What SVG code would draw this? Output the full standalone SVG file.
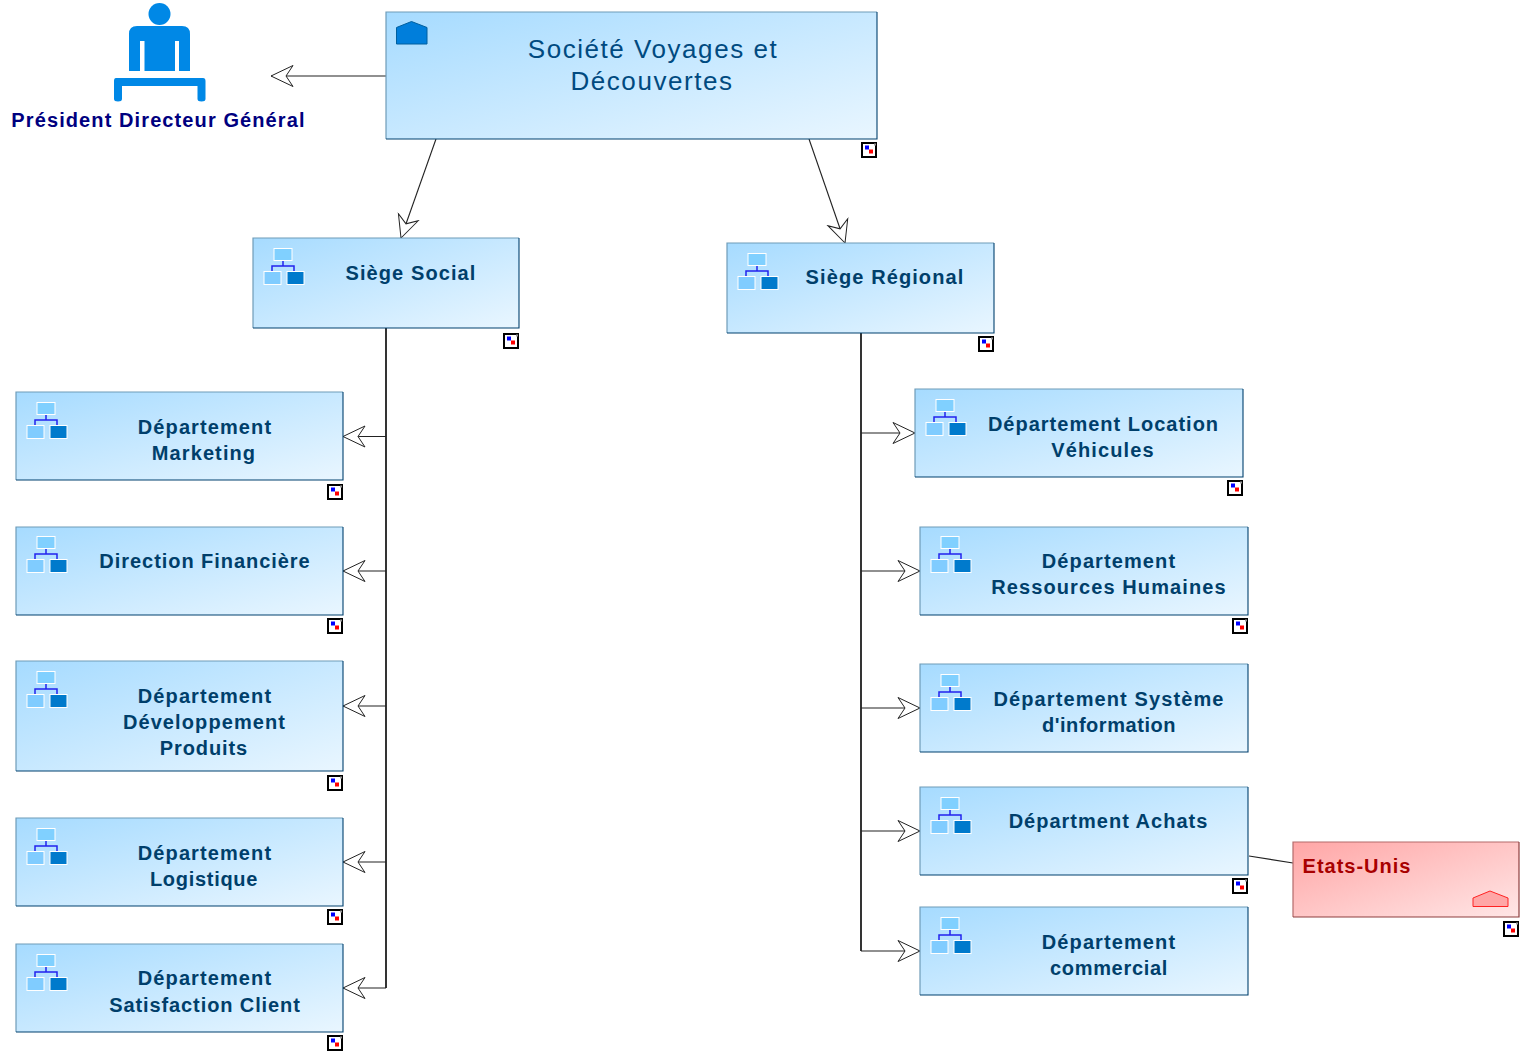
<svg xmlns="http://www.w3.org/2000/svg" xmlns:xlink="http://www.w3.org/1999/xlink" width="1522" height="1054" viewBox="0 0 1522 1054">
<style>
text{font-family:"Liberation Sans",Arial,sans-serif;text-anchor:middle}
.box{fill:url(#blue)}
.hl{fill:none;stroke:#6f9cb8;stroke-width:1.2}
.sh{fill:none;stroke:#00406e;stroke-width:1.1}
.t{font-size:20px;font-weight:700;fill:#003f6b;letter-spacing:1.1px}
.big{font-size:26px;fill:#004a80;letter-spacing:1.550px}
.c{fill:none;stroke:#222;stroke-width:1.1;marker-end:url(#arr)}
.l{fill:none;stroke:#000;stroke-width:1.6}
</style>
<defs>
<linearGradient id="blue" x1="0" y1="0" x2="1" y2="1"><stop offset="0" stop-color="#a6dbff"/><stop offset="1" stop-color="#e9f6ff"/></linearGradient>
<linearGradient id="red" x1="0" y1="0" x2="1" y2="1"><stop offset="0" stop-color="#ffa6a6"/><stop offset="1" stop-color="#ffe6e6"/></linearGradient>
<marker id="arr" markerUnits="userSpaceOnUse" markerWidth="26" markerHeight="26" refX="23" refY="12" orient="auto" viewBox="0 0 26 26"><path d="M1 1.500L23 12L1 22.500L8 12Z" fill="#fff" stroke="#222" stroke-width="1"/></marker>
<g id="org">
<rect x="10.500" y="0.500" width="18" height="12" fill="#80d0ff" stroke="#fff" stroke-width="1"/>
<path d="M19.500 13V18M8.500 23V18H30.500V23" fill="none" stroke="#2222ee" stroke-width="1.500"/>
<rect x="0.500" y="23.500" width="17" height="13" fill="#80ccff" stroke="#fff" stroke-width="1"/>
<rect x="23.500" y="23.500" width="17" height="13" fill="#007acc" stroke="#fff" stroke-width="1"/>
</g>
<g id="note">
<rect x="1" y="1" width="14" height="14" fill="#fff" stroke="#000" stroke-width="2"/>
<rect x="13" y="1.500" width="2" height="2" fill="#999"/>
<rect x="4" y="3.500" width="4" height="4" fill="#00f"/><rect x="8" y="7.500" width="4" height="4" fill="#f00"/>
</g>
</defs>

<g id="connectors">
<path class="c" d="M386 76H271"/>
<path class="c" d="M436 139L401 238"/>
<path class="c" d="M809 139L845 243"/>
<path class="l" d="M386 328V988"/>
<path class="c" d="M386 436.500H343"/>
<path class="c" d="M386 571H343"/>
<path class="c" d="M386 706H343"/>
<path class="c" d="M386 862H343"/>
<path class="c" d="M386 988H343"/>
<path class="l" d="M861 333V951"/>
<path class="c" d="M861 433H915"/>
<path class="c" d="M861 571H920"/>
<path class="c" d="M861 708H920"/>
<path class="c" d="M861 831H920"/>
<path class="c" d="M861 951H920"/>
<path class="c" style="marker-end:none" d="M1249 856L1293 863"/>
</g>

<g id="president">
<circle cx="159.500" cy="14" r="11" fill="#0088e6"/>
<path d="M129 71V34Q129 26 137 26H182Q190 26 190 34V71H179V41H175V71H144.500V41H140V71Z" fill="#0088e6"/>
<path d="M116 78H203Q205.500 78 205.500 81V99Q205.500 101.500 201.500 101.500Q197.500 101.500 197.500 99V86H122V99Q122 101.500 118 101.500Q114 101.500 114 99V81Q114 78 116 78Z" fill="#0088e6"/>
<text x="158.500" y="127" style="font-size:20px;font-weight:700;fill:#00007f;letter-spacing:1.100px">Président Directeur Général</text>
</g>

<g id="societe">
<rect class="box" x="386" y="12" width="491" height="127"/>
<path class="hl" d="M386 139V12H877"/><path class="sh" d="M877 12V139H386"/>
<path d="M396.500 27.500L411.500 21.500L427 27.500V44H396.500Z" fill="#007edb" stroke="#005f9e" stroke-width="1"/>
<text class="big" x="653" y="58">Société Voyages et</text>
<text class="big" x="652" y="90">Découvertes</text>
<use xlink:href="#note" href="#note" x="861" y="142"/>
</g>

<g id="siege-social">
<rect class="box" x="253" y="238" width="266" height="90"/>
<path class="hl" d="M253 328V238H519"/><path class="sh" d="M519 238V328H253"/>
<use xlink:href="#org" href="#org" x="263.500" y="248"/>
<text class="t" x="411" y="280">Siège Social</text>
<use xlink:href="#note" href="#note" x="503" y="333"/>
</g>

<g id="siege-regional">
<rect class="box" x="727" y="243" width="267" height="90"/>
<path class="hl" d="M727 333V243H994"/><path class="sh" d="M994 243V333H727"/>
<use xlink:href="#org" href="#org" x="737.500" y="253"/>
<text class="t" x="885" y="284">Siège Régional</text>
<use xlink:href="#note" href="#note" x="978" y="336"/>
</g>

<g id="dep-marketing">
<rect class="box" x="16" y="392" width="327" height="88"/>
<path class="hl" d="M16 480V392H343"/><path class="sh" d="M343 392V480H16"/>
<use xlink:href="#org" href="#org" x="26.500" y="402"/>
<text class="t" x="205" y="434">Département</text>
<text class="t" x="204" y="460">Marketing</text>
<use xlink:href="#note" href="#note" x="327" y="484"/>
</g>

<g id="dir-financiere">
<rect class="box" x="16" y="527" width="327" height="88"/>
<path class="hl" d="M16 615V527H343"/><path class="sh" d="M343 527V615H16"/>
<use xlink:href="#org" href="#org" x="26.500" y="536"/>
<text class="t" x="205" y="568" style="letter-spacing:.950px">Direction Financière</text>
<use xlink:href="#note" href="#note" x="327" y="618"/>
</g>

<g id="dep-developpement">
<rect class="box" x="16" y="661" width="327" height="110"/>
<path class="hl" d="M16 771V661H343"/><path class="sh" d="M343 661V771H16"/>
<use xlink:href="#org" href="#org" x="26.500" y="671"/>
<text class="t" x="205" y="703">Département</text>
<text class="t" x="204.500" y="729">Développement</text>
<text class="t" x="204" y="755" style="letter-spacing:.9px">Produits</text>
<use xlink:href="#note" href="#note" x="327" y="775"/>
</g>

<g id="dep-logistique">
<rect class="box" x="16" y="818" width="327" height="88"/>
<path class="hl" d="M16 906V818H343"/><path class="sh" d="M343 818V906H16"/>
<use xlink:href="#org" href="#org" x="26.500" y="828"/>
<text class="t" x="205" y="860">Département</text>
<text class="t" x="204" y="886" style="letter-spacing:.7px">Logistique</text>
<use xlink:href="#note" href="#note" x="327" y="909"/>
</g>

<g id="dep-satisfaction">
<rect class="box" x="16" y="944" width="327" height="88"/>
<path class="hl" d="M16 1032V944H343"/><path class="sh" d="M343 944V1032H16"/>
<use xlink:href="#org" href="#org" x="26.500" y="954"/>
<text class="t" x="205" y="985">Département</text>
<text class="t" x="205" y="1012" style="letter-spacing:.9px">Satisfaction Client</text>
<use xlink:href="#note" href="#note" x="327" y="1035"/>
</g>

<g id="dep-location">
<rect class="box" x="915" y="389" width="328" height="88"/>
<path class="hl" d="M915 477V389H1243"/><path class="sh" d="M1243 389V477H915"/>
<use xlink:href="#org" href="#org" x="925.500" y="399"/>
<text class="t" x="1103.500" y="431" style="letter-spacing:1px">Département Location</text>
<text class="t" x="1103" y="457">Véhicules</text>
<use xlink:href="#note" href="#note" x="1227" y="480"/>
</g>

<g id="dep-rh">
<rect class="box" x="920" y="527" width="328" height="88"/>
<path class="hl" d="M920 615V527H1248"/><path class="sh" d="M1248 527V615H920"/>
<use xlink:href="#org" href="#org" x="930.500" y="536"/>
<text class="t" x="1109" y="568">Département</text>
<text class="t" x="1109" y="594">Ressources Humaines</text>
<use xlink:href="#note" href="#note" x="1232" y="618"/>
</g>

<g id="dep-si">
<rect class="box" x="920" y="664" width="328" height="88"/>
<path class="hl" d="M920 752V664H1248"/><path class="sh" d="M1248 664V752H920"/>
<use xlink:href="#org" href="#org" x="930.500" y="674"/>
<text class="t" x="1109" y="706">Département Système</text>
<text class="t" x="1109" y="732" style="letter-spacing:.55px">d'information</text>
</g>

<g id="dep-achats">
<rect class="box" x="920" y="787" width="328" height="88"/>
<path class="hl" d="M920 875V787H1248"/><path class="sh" d="M1248 787V875H920"/>
<use xlink:href="#org" href="#org" x="930.500" y="797"/>
<text class="t" x="1108.500" y="828" style="letter-spacing:1px">Départment Achats</text>
<use xlink:href="#note" href="#note" x="1232" y="878"/>
</g>

<g id="dep-commercial">
<rect class="box" x="920" y="907" width="328" height="88"/>
<path class="hl" d="M920 995V907H1248"/><path class="sh" d="M1248 907V995H920"/>
<use xlink:href="#org" href="#org" x="930.500" y="917"/>
<text class="t" x="1109" y="949">Département</text>
<text class="t" x="1109" y="975" style="letter-spacing:.7px">commercial</text>
</g>

<g id="etats-unis">
<rect x="1293" y="842" width="226" height="75" fill="url(#red)"/>
<path d="M1293 917V842H1519" fill="none" stroke="#b46b6b" stroke-width="1.200"/><path d="M1519 842V917H1293" fill="none" stroke="#8e3f3f" stroke-width="1.200"/>
<path d="M1473 898L1490 891L1508 898V906.500H1473Z" fill="#ffa6a6" stroke="#f22" stroke-width="1"/>
<text x="1357" y="873" style="font-size:20px;font-weight:700;fill:#a80000;letter-spacing:1px">Etats-Unis</text>
<use xlink:href="#note" href="#note" x="1503" y="921"/>
</g>
</svg>
